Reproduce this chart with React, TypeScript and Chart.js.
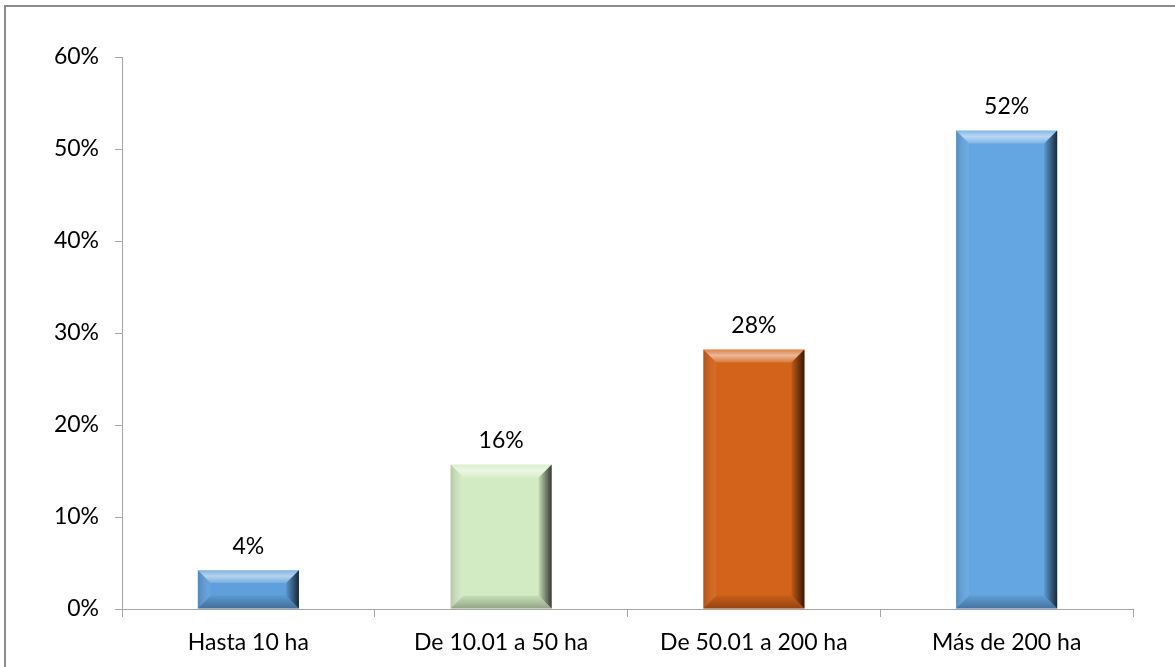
import { useEffect, useRef } from 'react';
import { Chart, registerables } from 'chart.js';

Chart.register(...registerables);

const categories = ['Hasta 10 ha', 'De 10.01 a 50 ha', 'De 50.01 a 200 ha', 'Más de 200 ha'];
const values = [4.2, 15.7, 28.2, 52.0];
const barColors = ['#5F9FDB', '#D3EBC2', '#D3621A', '#64A6E2'];
const yMin = 0;
const yMax = 60;
const yStep = 10;

const FONT = 'Lato, "Open Sans", sans-serif';
const FONT_SIZE = 23;

const framePlugin = {
  id: 'frame',
  beforeDraw(chart: any) {
    const ctx = chart.ctx;
    ctx.save();
    ctx.fillStyle = '#ffffff';
    ctx.fillRect(0, 0, chart.width, chart.height);
    ctx.strokeStyle = '#8c8c8c';
    ctx.lineWidth = 2;
    ctx.beginPath();
    ctx.moveTo(5, chart.height + 5);
    ctx.lineTo(5, 6);
    ctx.lineTo(chart.width + 5, 6);
    ctx.stroke();
    ctx.restore();
  },
};

const bevelPlugin = {
  id: 'bevel',
  afterDatasetsDraw(chart: any) {
    const ctx = chart.ctx;
    const meta = chart.getDatasetMeta(0);
    meta.data.forEach((el: any, i: number) => {
      const p = el.getProps(['x', 'y', 'base', 'width'], true);
      const left = p.x - p.width / 2;
      const right = p.x + p.width / 2;
      const top = Math.min(p.y, p.base);
      const bottom = Math.max(p.y, p.base);
      const h = bottom - top;
      const b = Math.min(13, h / 3);
      ctx.save();
      // top bevel
      let g = ctx.createLinearGradient(0, top, 0, top + b);
      g.addColorStop(0, 'rgba(255,255,255,0.2)');
      g.addColorStop(0.45, 'rgba(255,255,255,0.55)');
      g.addColorStop(1, 'rgba(255,255,255,0.15)');
      ctx.fillStyle = g;
      ctx.beginPath();
      ctx.moveTo(left, top);
      ctx.lineTo(right, top);
      ctx.lineTo(right - b, top + b);
      ctx.lineTo(left + b, top + b);
      ctx.closePath();
      ctx.fill();
      // bottom bevel
      g = ctx.createLinearGradient(0, bottom - b, 0, bottom);
      g.addColorStop(0, 'rgba(0,0,0,0.05)');
      g.addColorStop(1, 'rgba(0,0,0,0.3)');
      ctx.fillStyle = g;
      ctx.beginPath();
      ctx.moveTo(left, bottom);
      ctx.lineTo(right, bottom);
      ctx.lineTo(right - b, bottom - b);
      ctx.lineTo(left + b, bottom - b);
      ctx.closePath();
      ctx.fill();
      // left bevel
      g = ctx.createLinearGradient(left, 0, left + b, 0);
      g.addColorStop(0, 'rgba(0,0,0,0.15)');
      g.addColorStop(1, 'rgba(255,255,255,0.06)');
      ctx.fillStyle = g;
      ctx.beginPath();
      ctx.moveTo(left, top);
      ctx.lineTo(left + b, top + b);
      ctx.lineTo(left + b, bottom - b);
      ctx.lineTo(left, bottom);
      ctx.closePath();
      ctx.fill();
      // right bevel
      g = ctx.createLinearGradient(right - b, 0, right, 0);
      g.addColorStop(0, 'rgba(0,0,0,0.08)');
      g.addColorStop(1, 'rgba(0,0,0,0.75)');
      ctx.fillStyle = g;
      ctx.beginPath();
      ctx.moveTo(right, top);
      ctx.lineTo(right - b, top + b);
      ctx.lineTo(right - b, bottom - b);
      ctx.lineTo(right, bottom);
      ctx.closePath();
      ctx.fill();
      // labels
      ctx.fillStyle = '#000';
      ctx.font = FONT_SIZE + 'px ' + FONT;
      ctx.textAlign = 'center';
      ctx.textBaseline = 'middle';
      ctx.fillText(Math.round(values[i]) + '%', p.x, top - 24);
      ctx.restore();
    });
  },
};

export default function App() {
  const ref = useRef<HTMLCanvasElement | null>(null);
  useEffect(() => {
    document.body.style.margin = '0';
    const canvas = ref.current;
    if (!canvas) return;
    const chart = new Chart(canvas, {
      type: 'bar',
      data: {
        labels: categories,
        datasets: [
          {
            data: values,
            backgroundColor: barColors,
            borderWidth: 0,
            categoryPercentage: 1,
            barPercentage: 0.4,
          },
        ],
      },
      options: {
        animation: false,
        responsive: false,
        layout: { padding: { top: 57, right: 42, left: 0, bottom: 0 } },
        plugins: { legend: { display: false }, tooltip: { enabled: false } },
        scales: {
          x: {
            grid: { drawOnChartArea: false, drawTicks: true, tickLength: 8, color: '#A6A6A6', offset: true },
            border: { display: true, color: '#A6A6A6', width: 1 },
            ticks: { color: '#000', font: { family: FONT, size: FONT_SIZE }, padding: 12 },
            afterFit: (s: any) => { s.height = 58; },
          },
          y: {
            min: yMin,
            max: yMax,
            grid: { drawOnChartArea: false, drawTicks: true, tickLength: 7, color: '#A6A6A6' },
            border: { display: true, color: '#A6A6A6', width: 1 },
            ticks: {
              stepSize: yStep,
              color: '#000',
              font: { family: FONT, size: FONT_SIZE },
              padding: 16,
              callback: (v: any) => v + '%',
            },
            afterFit: (s: any) => { s.width = 122; },
          },
        },
      },
      plugins: [framePlugin, bevelPlugin],
    });
    return () => chart.destroy();
  }, []);
  return (
    <div style={{ width: 1175, height: 667 }}>
      <canvas ref={ref} width={1175} height={667} />
    </div>
  );
}
